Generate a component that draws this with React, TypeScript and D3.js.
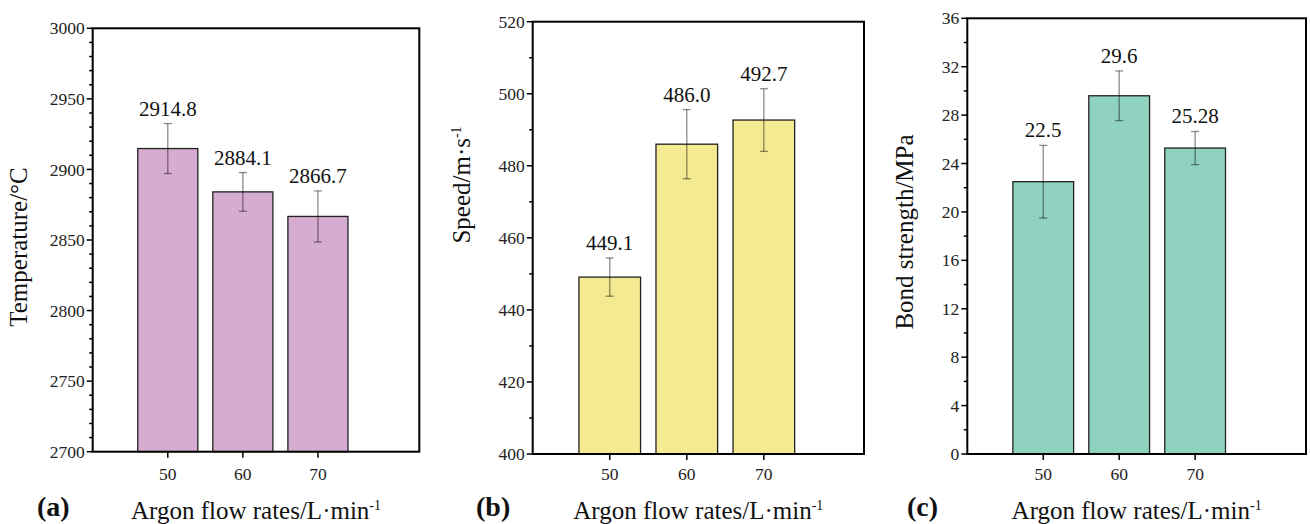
import * as d3 from 'd3';

// categories (argon flow rates, L/min)
const flowRates = ['50', '60', '70'];

// (a) temperature
const temperature = [2914.8, 2884.1, 2866.7];
const temperatureErr = [17.7, 13.7, 18.1];
const temperatureLabels = ['2914.8', '2884.1', '2866.7'];
const temperatureTicks = [2700, 2750, 2800, 2850, 2900, 2950, 3000];

// (b) speed
const speed = [449.1, 486.0, 492.7];
const speedErr = [5.3, 9.6, 8.7];
const speedLabels = ['449.1', '486.0', '492.7'];
const speedTicks = [400, 420, 440, 460, 480, 500, 520];

// (c) bond strength
const bond = [22.5, 29.6, 25.28];
const bondErr = [3.0, 2.05, 1.37];
const bondLabels = ['22.5', '29.6', '25.28'];
const bondTicks = [0, 4, 8, 12, 16, 20, 24, 28, 32, 36];

const serif = { fontFamily: "'Liberation Serif', 'Times New Roman', serif" };

type PanelProps = {
  values: number[];
  errors: number[];
  labels: string[];
  ticks: number[];
  minorStep: number;
  fill: string;
  box: { left: number; right: number; top: number; bottom: number; xMax: number };
  yTitle: React.ReactNode;
  yTitlePos: { x: number; y: number };
  letter: string;
  letterX: number;
};

function Panel({ values, errors, labels, ticks, minorStep, fill, box, yTitle, yTitlePos, letter, letterX }: PanelProps) {
  const y = d3.scaleLinear()
    .domain([ticks[0], ticks[ticks.length - 1]])
    .range([box.bottom, box.top]);
  // category index 1..3 on a linear axis (Origin-style)
  const x = d3.scaleLinear().domain([0, box.xMax]).range([box.left, box.right]);
  const barW = x(0.8) - x(0);
  const minors = d3.range(ticks[0], ticks[ticks.length - 1], minorStep)
    .filter(v => !ticks.includes(v));
  const cx = (box.left + box.right) / 2;

  return (
    <g fill="#111">
      {values.map((v, i) => (
        <rect key={'b' + i}
          x={x(i + 1) - barW / 2} y={y(v)}
          width={barW} height={box.bottom - y(v)}
          fill={fill} stroke="#222" strokeWidth={1.3} />
      ))}
      {values.map((v, i) => {
        const xc = x(i + 1);
        const t = y(v + errors[i]);
        const b = y(v - errors[i]);
        return (
          <g key={'e' + i} stroke="rgba(0,0,0,0.45)" strokeWidth={1.3}>
            <line x1={xc} x2={xc} y1={t} y2={b} />
            <line x1={xc - 4} x2={xc + 4} y1={t} y2={t} />
            <line x1={xc - 4} x2={xc + 4} y1={b} y2={b} />
          </g>
        );
      })}
      {values.map((v, i) => (
        <text key={'l' + i} x={x(i + 1)} y={y(v + errors[i]) - 8}
          textAnchor="middle" style={{ ...serif, fontSize: 21 }}>{labels[i]}</text>
      ))}

      <rect x={box.left} y={box.top} width={box.right - box.left} height={box.bottom - box.top}
        fill="none" stroke="#000" strokeWidth={2} />

      {ticks.map(tk => (
        <g key={'yt' + tk}>
          <line x1={box.left - 6} x2={box.left} y1={y(tk)} y2={y(tk)} stroke="#000" strokeWidth={1.5} />
          <text x={box.left - 8} y={y(tk)} dy="0.35em" textAnchor="end"
            style={{ ...serif, fontSize: 17.5 }} fill="#222">{tk}</text>
        </g>
      ))}
      {minors.map(m => (
        <line key={'ym' + m} x1={box.left - 3.5} x2={box.left} y1={y(m)} y2={y(m)} stroke="#000" strokeWidth={1.5} />
      ))}

      {flowRates.map((c, i) => (
        <g key={'xt' + c}>
          <line x1={x(i + 1)} x2={x(i + 1)} y1={box.bottom} y2={box.bottom + 6} stroke="#000" strokeWidth={1.5} />
          <text x={x(i + 1)} y={480} textAnchor="middle" style={{ ...serif, fontSize: 17.5 }} fill="#222">{c}</text>
        </g>
      ))}

      <text x={cx} y={519} textAnchor="middle" style={{ ...serif, fontSize: 25 }}>
        Argon flow rates/L·min<tspan dy={-9} style={{ fontSize: 14 }}>-1</tspan>
      </text>

      <text transform={`translate(${yTitlePos.x},${yTitlePos.y}) rotate(-90)`}
        textAnchor="middle" style={{ ...serif, fontSize: 25 }}>{yTitle}</text>

      <text x={letterX} y={516} style={{ ...serif, fontSize: 28, fontWeight: 'bold' }}>{letter}</text>
    </g>
  );
}

export default function App() {
  return (
    <svg width={1310} height={524} style={{ position: 'absolute', left: 0, top: 0, background: '#fff' }}>
      <Panel
        values={temperature} errors={temperatureErr} labels={temperatureLabels}
        ticks={temperatureTicks} minorStep={10} fill="#d7acd1"
        box={{ left: 92.7, right: 419.3, top: 28.3, bottom: 451.7, xMax: 4.35 }}
        yTitle="Temperature/°C" yTitlePos={{ x: 27, y: 247 }}
        letter="(a)" letterX={37}
      />
      <Panel
        values={speed} errors={speedErr} labels={speedLabels}
        ticks={speedTicks} minorStep={10} fill="#f4ea92"
        box={{ left: 532.7, right: 864, top: 21.7, bottom: 454, xMax: 4.3 }}
        yTitle={<>Speed/m·s<tspan dy={-9} style={{ fontSize: 14 }}>-1</tspan></>}
        yTitlePos={{ x: 470, y: 185 }}
        letter="(b)" letterX={476}
      />
      <Panel
        values={bond} errors={bondErr} labels={bondLabels}
        ticks={bondTicks} minorStep={2} fill="#8fd2bf"
        box={{ left: 967.3, right: 1306, top: 18.3, bottom: 454, xMax: 4.46 }}
        yTitle="Bond strength/MPa" yTitlePos={{ x: 913, y: 232 }}
        letter="(c)" letterX={907}
      />
    </svg>
  );
}
